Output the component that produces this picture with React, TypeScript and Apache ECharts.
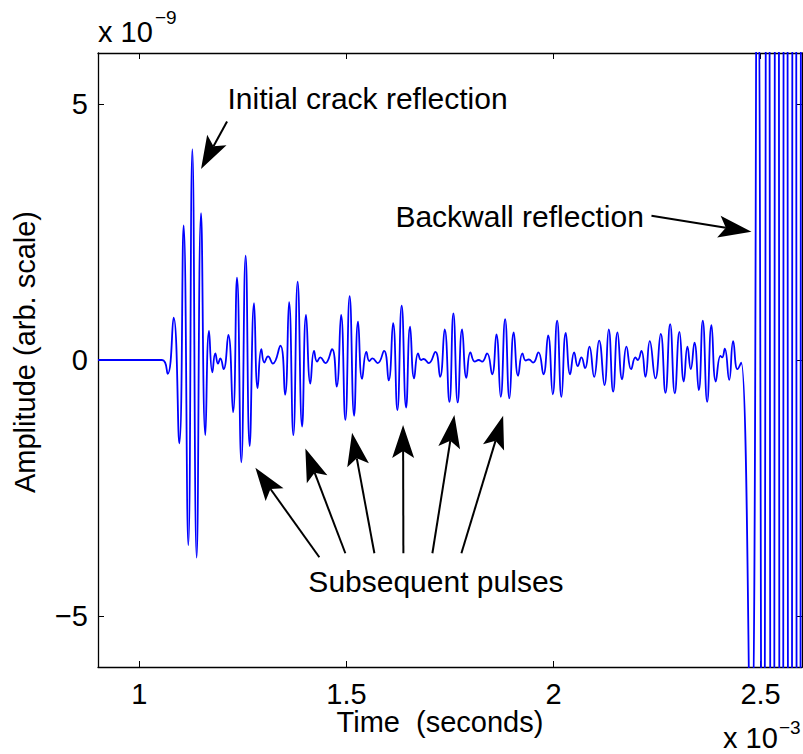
import React, { useEffect, useRef } from "react";
import * as echarts from "echarts";

// Time axis in units of 1e-3 s, amplitude in units of 1e-9 (arb. scale).
const timeMs = [
  0.9, 1.0546, 1.0681, 1.0826, 1.0964, 1.1068, 1.1181, 1.1278, 1.1382, 1.1488,
  1.1592, 1.1681, 1.1761, 1.1833, 1.1899, 1.1954, 1.2034, 1.2147, 1.2261, 1.2357,
  1.2461, 1.2565, 1.2662, 1.2768, 1.2855, 1.2944, 1.3017, 1.3106, 1.3222, 1.3403,
  1.3517, 1.3614, 1.3717, 1.3821, 1.3928, 1.4024, 1.4128, 1.4217, 1.429, 1.437,
  1.449, 1.4652, 1.4763, 1.487, 1.4973, 1.5077, 1.5184, 1.528, 1.5377, 1.5481,
  1.5553, 1.5626, 1.5754, 1.5908, 1.6019, 1.6126, 1.6229, 1.6333, 1.644, 1.6536,
  1.6633, 1.6729, 1.6802, 1.6865, 1.6986, 1.7147, 1.7261, 1.7372, 1.7486, 1.7582,
  1.7686, 1.7792, 1.7896, 1.7993, 1.8097, 1.8193, 1.8275, 1.8396, 1.8517, 1.8621,
  1.8725, 1.8831, 1.8935, 1.9039, 1.9145, 1.9249, 1.9329, 1.9401, 1.9507, 1.9635,
  1.9756, 1.987, 1.9981, 2.0087, 2.0191, 2.0295, 2.0401, 2.0498, 2.0585, 2.0674,
  2.0763, 2.0867, 2.0981, 2.1101, 2.123, 2.1333, 2.144, 2.1544, 2.1657, 2.1761,
  2.1874, 2.1978, 2.2034, 2.2123, 2.222, 2.2324, 2.2461, 2.2589, 2.2703, 2.2816,
  2.2928, 2.3041, 2.3145, 2.3234, 2.3314, 2.3403, 2.3507, 2.3604, 2.371, 2.3814,
  2.3918, 2.4031, 2.4072, 2.4135, 2.4242, 2.4338, 2.4442, 2.4531, 2.4768, 2.4925,
  2.5053, 2.5167, 2.528, 2.5391, 2.55, 2.5601, 2.571, 2.5814, 2.5916, 2.602,
  2.612,
];

const amplitude = [
  0, 0, -0.27, 0.83, -1.63, 2.63, -3.62, 4.12, -3.86, 2.87,
  -1.47, 0.57, -0.24, 0.13, -0.07, 0.03, -0.18, 0.49, -1.02, 1.61,
  -2.0, 2.04, -1.68, 1.11, -0.55, 0.21, -0.05, 0.07, -0.07, 0.28,
  -0.68, 1.13, -1.47, 1.53, -1.3, 0.88, -0.46, 0.18, -0.03, 0.05,
  -0.06, 0.21, -0.52, 0.88, -1.17, 1.25, -1.09, 0.75, -0.37, 0.16,
  -0.02, 0.03, -0.06, 0.18, -0.4, 0.72, -0.98, 1.06, -0.93, 0.65,
  -0.36, 0.13, 0.0, 0.02, -0.06, 0.16, -0.33, 0.6, -0.82, 0.91,
  -0.83, 0.6, -0.35, 0.15, -0.03, 0.0, -0.03, 0.13, -0.28, 0.5,
  -0.72, 0.8, -0.75, 0.54, -0.31, 0.13, -0.01, 0.01, -0.05, 0.15,
  -0.28, 0.48, -0.67, 0.77, -0.72, 0.53, -0.28, 0.15, -0.12, 0.05,
  -0.16, 0.26, -0.33, 0.38, -0.49, 0.6, -0.62, 0.54, -0.38, 0.26,
  -0.18, 0.05, 0.0, 0.18, -0.33, 0.37, -0.36, 0.51, -0.64, 0.7,
  -0.65, 0.55, -0.42, 0.26, -0.18, 0.34, -0.59, 0.77, -0.82, 0.68,
  -0.42, 0.08, 0.05, 0.22, -0.39, 0.37, -0.18, -0.05, -8, 9,
  -14, 20, -28, 35, -40, 45, -45, 45, -45, 45,
  -45,
];

const xTicks = [1, 1.5, 2, 2.5];
const yTicks = [-5, 0, 5];
const xRange = [0.9, 2.6];
const yRange = [-6, 6];

// Annotation arrows: [tail, tip] in data coordinates (ms, 1e-9).
const crackArrow = [[1.2116, 4.663], [1.1488, 3.732]];
const pulseArrows = [
  [[1.4345, -3.855], [1.28, -2.108]],
  [[1.4973, -3.777], [1.4007, -1.728]],
  [[1.5674, -3.777], [1.5135, -1.423]],
  [[1.6374, -3.777], [1.6367, -1.272]],
  [[1.7075, -3.777], [1.7606, -1.076]],
  [[1.7775, -3.777], [1.8783, -1.09]],
];
const backwallArrow = [[2.2365, 2.818], [2.478, 2.505]];

// Annotation labels: text and left-middle anchor in data coordinates.
const labelTexts = ["Initial crack reflection", "Backwall reflection", "Subsequent pulses"];
const labelAnchors = [[1.2128, 5.108], [1.6181, 2.798], [1.408, -4.325]];

const FONT = "'Liberation Sans', Arial, Helvetica, sans-serif";

function arrowElements(tail: number[], tip: number[]) {
  const dx = tail[0] - tip[0];
  const dy = tail[1] - tip[1];
  const len = Math.hypot(dx, dy);
  const ux = dx / len;
  const uy = dy / len;
  const nx = -uy;
  const ny = ux;
  const L = 33;
  const N = 26;
  const W = 22;
  const notch = [tip[0] + ux * N, tip[1] + uy * N];
  return [
    {
      type: "line",
      shape: { x1: tail[0], y1: tail[1], x2: notch[0], y2: notch[1] },
      style: { stroke: "#000", lineWidth: 2 },
      z: 20,
    },
    {
      type: "polygon",
      shape: {
        points: [
          tip,
          [tip[0] + ux * L + (nx * W) / 2, tip[1] + uy * L + (ny * W) / 2],
          notch,
          [tip[0] + ux * L - (nx * W) / 2, tip[1] + uy * L - (ny * W) / 2],
        ],
      },
      style: { fill: "#000" },
      z: 20,
    },
  ];
}

function textEl(
  text: string,
  x: number,
  y: number,
  size: number,
  align = "left",
  extra: any = {},
  lineHeight?: number
) {
  return {
    type: "text",
    x,
    y,
    z: 20,
    ...extra,
    style: {
      text,
      fontSize: size,
      fontFamily: FONT,
      fill: "#000",
      align,
      verticalAlign: "middle",
      ...(lineHeight ? { lineHeight } : {}),
    },
  };
}

export default function App() {
  const ref = useRef<HTMLDivElement>(null);

  useEffect(() => {
    document.body.style.margin = "0";
    const el = ref.current!;
    const chart = echarts.init(el, undefined, { renderer: "svg" });

    const axisLine = { show: true, onZero: false, lineStyle: { color: "#000", width: 1.3 } };
    const tickStyle = { color: "#000", width: 1 };

    chart.setOption({
      animation: false,
      backgroundColor: "#fff",
      grid: { left: 98, top: 53, width: 704, height: 614, containLabel: false, outerBoundsMode: "none" },
      xAxis: [
        {
          type: "value",
          position: "bottom",
          min: xRange[0],
          max: xRange[1],
          axisLine,
          axisTick: { show: true, inside: true, length: 6, customValues: xTicks, lineStyle: tickStyle },
          axisLabel: {
            customValues: xTicks,
            margin: 13.5,
            fontSize: 29,
            lineHeight: 26,
            fontFamily: FONT,
            color: "#000",
            formatter: (v: number) => String(v),
          },
          splitLine: { show: false },
        },
        {
          type: "value",
          position: "top",
          min: xRange[0],
          max: xRange[1],
          axisLine,
          axisTick: { show: true, inside: true, length: 6, customValues: xTicks, lineStyle: tickStyle },
          axisLabel: { show: false },
          splitLine: { show: false },
        },
      ],
      yAxis: [
        {
          type: "value",
          position: "left",
          min: yRange[0],
          max: yRange[1],
          axisLine,
          axisTick: { show: true, inside: true, length: 6, customValues: yTicks, lineStyle: tickStyle },
          axisLabel: {
            customValues: yTicks,
            margin: 10,
            fontSize: 29,
            fontFamily: FONT,
            color: "#000",
            formatter: (v: number) => (v < 0 ? "\u2212" + String(-v) : String(v)),
          },
          splitLine: { show: false },
        },
        {
          type: "value",
          position: "right",
          min: yRange[0],
          max: yRange[1],
          axisLine,
          axisTick: { show: true, inside: true, length: 6, customValues: yTicks, lineStyle: tickStyle },
          axisLabel: { show: false },
          splitLine: { show: false },
        },
      ],
      series: [
        {
          type: "line",
          xAxisIndex: 0,
          yAxisIndex: 0,
          data: timeMs.map((t, i) => [t, amplitude[i]]),
          showSymbol: false,
          smooth: true,
          clip: true,
          lineStyle: { color: "#0000ff", width: 1.8 },
          z: 5,
        },
      ],
    });

    const px = (p: number[]) => chart.convertToPixel({ gridIndex: 0 }, p) as number[];

    const elements: any[] = [];
    const allArrows = [crackArrow, ...pulseArrows, backwallArrow];
    allArrows.forEach(([tail, tip]) => {
      elements.push(...arrowElements(px(tail), px(tip)));
    });
    labelTexts.forEach((t, i) => {
      const p = px(labelAnchors[i]);
      elements.push(textEl(t, p[0], p[1], 30));
    });

    // Axis titles and exponent multipliers
    elements.push(textEl("Time  (seconds)", 440, 722, 29, "center"));
    elements.push(textEl("Amplitude (arb. scale)", 25, 352, 29, "center", { rotation: Math.PI / 2 }));
    elements.push(textEl("x 10", 98, 32, 29));
    elements.push(textEl("\u22129", 155, 17, 19));
    elements.push(textEl("x 10", 723, 738, 29, "left", {}, 22));
    elements.push(textEl("\u22123", 779, 727, 19));

    chart.setOption({ graphic: elements });

    return () => chart.dispose();
  }, []);

  return (
    <div
      ref={ref}
      style={{ position: "absolute", left: 0, top: 0, width: 803, height: 754, background: "#fff" }}
    />
  );
}
